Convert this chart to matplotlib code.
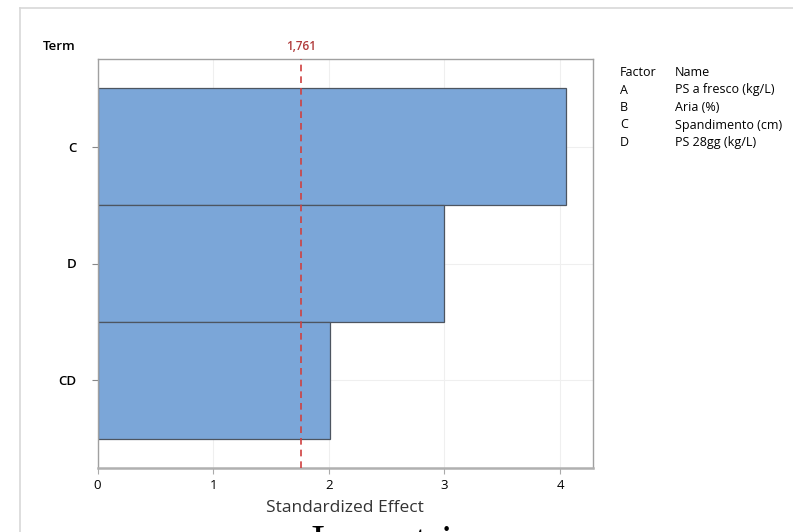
import matplotlib.pyplot as plt
from matplotlib.lines import Line2D

terms = ["C", "D", "CD"]
effects = [4.05, 3.00, 2.01]
ref_value = 1.761
ref_label = "1,761"
x_ticks = [0, 1, 2, 3, 4]
factors = ["A", "B", "C", "D"]
names = ["PS a fresco (kg/L)", "Aria (%)", "Spandimento (cm)", "PS 28gg (kg/L)"]

plt.rcParams['font.family'] = ['Open Sans', 'DejaVu Sans']

W, H = 793, 532
fig = plt.figure(figsize=(W / 100, H / 100), dpi=100)

def fx(px):
    return px / W

def fy(py):
    return 1 - py / H

# outer frame of the graph window
fig.add_artist(Line2D([fx(20), fx(20)], [fy(8), 0], color="#d8d8d8", lw=1.2))
fig.add_artist(Line2D([fx(20), 1], [fy(8), fy(8)], color="#d8d8d8", lw=1.2))

ax = fig.add_axes([fx(97.6), fy(468), fx(593) - fx(97.6), fy(59) - fy(468)])

pos = list(range(len(terms)))
ax.barh(pos, effects, height=1.0, color="#7ba6d8", edgecolor="#4d5560", linewidth=0.9, zorder=2)
ax.set_ylim(len(terms) - 0.25, -0.75)
ax.set_xlim(0, 4.285)

ax.axvline(ref_value, color="#d04040", ls=(0, (4, 3)), lw=1.2, zorder=3)
ax.text(ref_value, -0.8, ref_label, color="#b03a3a", fontsize=8.5, fontweight="semibold",
        ha="center", va="bottom")

ax.set_yticks(pos)
ax.set_yticklabels(terms, fontsize=9.5, fontweight="semibold")
ax.set_xticks(x_ticks)
ax.set_xticklabels([str(t) for t in x_ticks], fontsize=9.5)
ax.tick_params(axis="y", length=4, color="#888888", pad=11)
ax.tick_params(axis="x", length=4, color="#aaaaaa", pad=4)
ax.grid(True, color="#efefef", lw=0.8, zorder=0)
ax.set_axisbelow(True)

for side in ["top", "right", "left"]:
    ax.spines[side].set_color("#a0a0a0")
    ax.spines[side].set_linewidth(1.0)
ax.spines["bottom"].set_color("#b0b0b0")
ax.spines["bottom"].set_linewidth(1.8)

ax.set_xlabel("Standardized Effect", fontsize=12.5, color="#333333", labelpad=6)
fig.text(fx(43), fy(46), "Term", fontsize=9.5, fontweight="semibold", ha="left", va="center")

# factor table
fig.text(fx(620), fy(72.5), "Factor", fontsize=9, va="center")
fig.text(fx(675), fy(72.5), "Name", fontsize=9, va="center")
for i, (f, n) in enumerate(zip(factors, names)):
    y = 72.5 + 17.5 * (i + 1)
    fig.text(fx(620), fy(y), f, fontsize=9, va="center")
    fig.text(fx(675), fy(y), n, fontsize=9, va="center")

# caption cut off at the bottom of the picture
fig.text(fx(311), fy(524), "Isometria", fontsize=31, family="Liberation Serif", ha="left", va="top")

fig.savefig("out.png", dpi=100)
